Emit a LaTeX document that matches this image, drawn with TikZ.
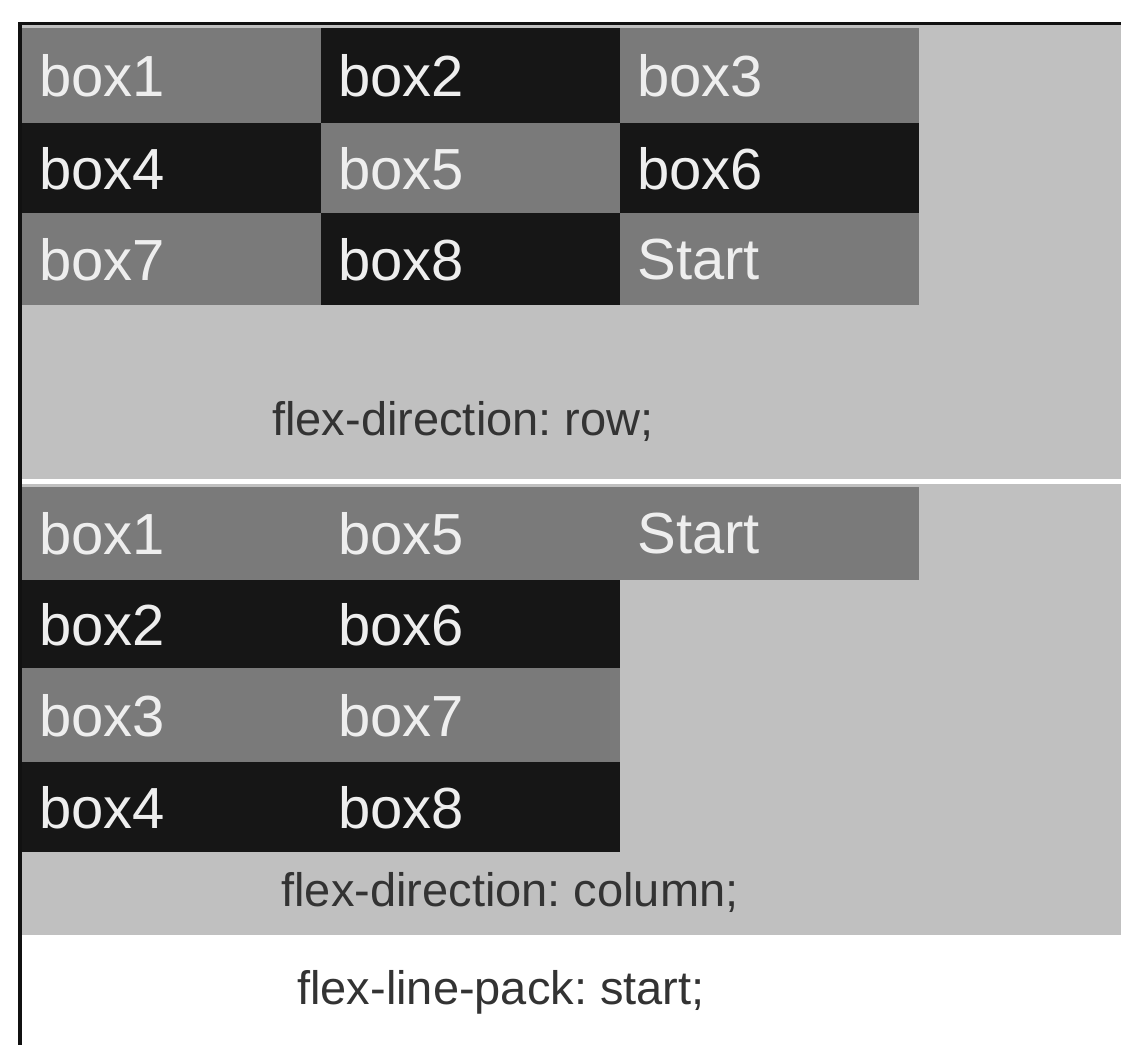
\documentclass[tikz,border=0pt]{standalone}
\usepackage{fontspec}
\setmainfont{Liberation Sans}
\frenchspacing
\definecolor{bggray}{HTML}{C0C0C0}
\definecolor{boxgray}{HTML}{7A7A7A}
\definecolor{boxdark}{HTML}{161616}
\definecolor{labelwhite}{HTML}{EEEEEE}
\definecolor{captext}{HTML}{333333}
\definecolor{bordercol}{HTML}{111111}
\begin{document}
\begin{tikzpicture}[x=0.5pt,y=-0.5pt,
  cell/.style={anchor=north west, inner xsep=8.5pt, inner ysep=0pt, text width=132.5pt,
    align=left, font=\fontsize{29}{30}\selectfont, text=labelwhite, minimum width=149.5pt},
  light/.style={cell, fill=boxgray},
  dark/.style={cell, fill=boxdark},
  caption/.style={font=\fontsize{23.5}{26}\selectfont, text=captext, anchor=base}]
\useasboundingbox (0,0) rectangle (1121,1045);
\fill[white] (0,0) rectangle (1121,1045);
\fill[bggray] (22,25) rectangle (1121,479);
\fill[bggray] (22,484) rectangle (1121,935);
% top section: flex-direction: row
\node[light, minimum height=47.5pt] (a1) at (22,28) {box1};
\node[dark,  minimum height=47.5pt] (a2) at (321,28) {box2};
\node[light, minimum height=47.5pt] (a3) at (620,28) {box3};
\node[dark,  minimum height=45pt] (a4) at (22,123) {box4};
\node[light, minimum height=45pt] (a5) at (321,123) {box5};
\node[dark,  minimum height=45pt] (a6) at (620,123) {box6};
\node[light, minimum height=46pt] (a7) at (22,213) {box7};
\node[dark,  minimum height=46pt] (a8) at (321,213) {box8};
\node[light, minimum height=46pt] (a9) at (620,213) {Start};
\node[caption] (cap1) at (463,435) {flex-direction: row;};
% bottom section: flex-direction: column
\node[light, minimum height=46.5pt] (b1) at (22,487) {box1};
\node[light, minimum height=46.5pt] (b5) at (321,487) {box5};
\node[light, minimum height=46.5pt] (b9) at (620,487) {Start};
\node[dark,  minimum height=44pt] (b2) at (22,580) {box2};
\node[dark,  minimum height=44pt] (b6) at (321,580) {box6};
\node[light, minimum height=47pt] (b3) at (22,668) {box3};
\node[light, minimum height=47pt] (b7) at (321,668) {box7};
\node[dark,  minimum height=45pt] (b4) at (22,762) {box4};
\node[dark,  minimum height=45pt] (b8) at (321,762) {box8};
\node[caption] (cap2) at (510,906) {flex-direction: column;};
\node[caption] (cap3) at (501,1004) {flex-line-pack: start;};
% frame
\draw[line width=1.75pt, bordercol] (20,1045) -- (20,23.5) -- (1121,23.5);
\end{tikzpicture}
\end{document}
